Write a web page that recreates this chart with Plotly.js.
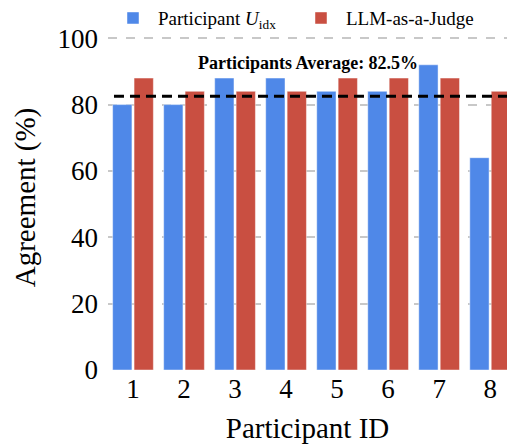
<!DOCTYPE html>
<html>
<head>
<meta charset="utf-8">
<script src="https://cdn.plot.ly/plotly-3.0.1.min.js"></script>
<style>html,body{margin:0;padding:0;overflow:hidden;background:#fff;}</style>
</head>
<body>
<div id="chart" style="width:507px;height:448px;"></div>
<script>
const participantIds = [1, 2, 3, 4, 5, 6, 7, 8];
const participantAgreement = [80, 80, 88, 88, 84, 84, 92, 64];
const judgeAgreement = [88, 84, 84, 84, 88, 88, 88, 84];
const yTickVals = [0, 20, 40, 60, 80, 100];
const seriesNames = ['Participant <i>U</i><sub>idx</sub>', 'LLM-as-a-Judge'];

const avg = participantAgreement.reduce((a, b) => a + b, 0) / participantAgreement.length;
const FONT = '"Liberation Serif", "Times New Roman", serif';

const traces = [
  {
    type: 'bar', x: participantIds, y: participantAgreement, name: seriesNames[0],
    marker: {color: '#4f88e8', line: {color: 'rgba(255,255,255,0.45)', width: 1}}
  },
  {
    type: 'bar', x: participantIds, y: judgeAgreement, name: seriesNames[1],
    marker: {color: '#c94f41', line: {color: 'rgba(255,255,255,0.45)', width: 1}}
  }
];

const layout = {
  width: 507, height: 448,
  margin: {l: 108, r: 0, t: 25, b: 78, autoexpand: false},
  paper_bgcolor: '#fff', plot_bgcolor: '#fff',
  font: {family: FONT, color: '#000'},
  barmode: 'group', bargap: 0.16, bargroupgap: 0.1,
  showlegend: true,
  legend: {
    orientation: 'h', x: 0.0, xanchor: 'left',
    y: 1.075, yanchor: 'top', bgcolor: 'rgba(0,0,0,0)',
    font: {family: FONT, size: 19}, itemwidth: 40, entrywidth: 133, traceorder: 'normal'
  },
  xaxis: {
    range: [0.51, 8.33], tickvals: participantIds, ticktext: participantIds.map(String),
    showgrid: false, zeroline: false, showline: false, ticks: '', automargin: false,
    tickfont: {family: FONT, size: 27},
    title: {text: 'Participant ID', font: {family: FONT, size: 29}, standoff: 14}
  },
  yaxis: {
    range: [0, 104], tickvals: yTickVals, ticktext: yTickVals.map(String),
    showgrid: true, gridcolor: '#c8c8c8', gridwidth: 2, griddash: 'dash',
    zeroline: false, showline: false, ticks: '', automargin: false,
    ticklabelstandoff: 9,
    tickfont: {family: FONT, size: 27},
    title: {text: 'Agreement (%)', font: {family: FONT, size: 29}, standoff: 13}
  },
  shapes: [{
    type: 'line', xref: 'paper', x0: 0.015, x1: 1, yref: 'y', y0: avg, y1: avg,
    line: {color: '#000', width: 3, dash: '10px,6px'}
  }],
  annotations: [{
    xref: 'paper', x: 0.5, yref: 'y', y: 92.5, xanchor: 'center', yanchor: 'middle',
    text: '<b>Participants Average: ' + avg.toFixed(1) + '%</b>', showarrow: false,
    font: {family: FONT, size: 18, color: '#000'}
  }]
};

Plotly.newPlot('chart', traces, layout, {displayModeBar: false, staticPlot: true});
</script>
</body>
</html>
